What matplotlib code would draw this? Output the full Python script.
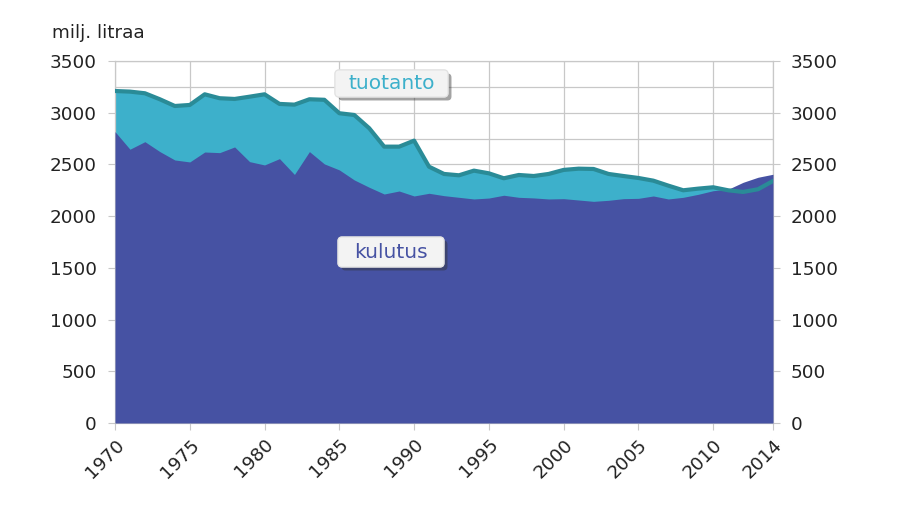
import numpy as np
import matplotlib
matplotlib.use("Agg")
import matplotlib.pyplot as plt
import matplotlib.patheffects as pe
from matplotlib.patches import FancyBboxPatch

years = np.arange(1970, 2015)

# tuotanto (production), milj. litraa
tuotanto = [3210, 3204, 3188, 3130, 3065, 3075, 3178, 3140, 3133, 3155,
            3178, 3085, 3078, 3130, 3125, 2995, 2978, 2850, 2672, 2672,
            2730, 2478, 2408, 2395, 2440, 2414, 2366, 2398, 2388, 2408,
            2447, 2459, 2456, 2408, 2388, 2369, 2343, 2295, 2250, 2266,
            2279, 2250, 2234, 2260, 2340]

# kulutus (consumption), milj. litraa
kulutus = [2817, 2647, 2720, 2624, 2543, 2524, 2620, 2614, 2669, 2527,
           2495, 2556, 2403, 2624, 2505, 2447, 2350, 2279, 2214, 2243,
           2195, 2221, 2198, 2182, 2166, 2175, 2202, 2182, 2176, 2166,
           2169, 2156, 2143, 2153, 2169, 2172, 2195, 2166, 2182, 2211,
           2246, 2260, 2327, 2376, 2405]

xticks = [1970, 1975, 1980, 1985, 1990, 1995, 2000, 2005, 2010, 2014]

c_kul = "#4652A3"
c_tuo = "#3DB0CB"
c_line = "#2A8B97"
c_grid = "#C8C8C8"
c_txt = "#222222"

W, H = 900, 515
ax_px = (115, 92, 658, 362)  # left, bottom, width, height in pixels

fig = plt.figure(figsize=(W / 100, H / 100), dpi=100)
ax = fig.add_axes([ax_px[0] / W, ax_px[1] / H, ax_px[2] / W, ax_px[3] / H])

ax.fill_between(years, 0, tuotanto, color=c_tuo, lw=0, zorder=2)
ax.fill_between(years, 0, kulutus, color=c_kul, lw=0, zorder=3)
ax.plot(years, tuotanto, color=c_line, lw=3, zorder=4, solid_joinstyle="round")

ax.set_xlim(1970, 2014)
ax.set_ylim(0, 3500)
ax.set_xticks(xticks)
ax.set_xticklabels([str(y) for y in xticks], rotation=45, ha="right",
                   va="top", rotation_mode="anchor")
ax.set_yticks(np.arange(0, 3501, 500))
ax.set_yticks(np.arange(0, 3501, 250), minor=True)
ax.tick_params(axis="both", which="major", labelsize=13.2, labelcolor=c_txt,
               color=c_grid, length=5, width=0.8)
ax.tick_params(axis="y", which="minor", length=0)
ax.tick_params(axis="y", right=True, labelright=True, pad=8)
ax.tick_params(axis="x", pad=4)

ax.grid(True, which="both", color=c_grid, lw=0.9, zorder=0)
ax.grid(False, axis="x", which="minor")
ax.set_axisbelow(True)
for s in ax.spines.values():
    s.set_color(c_grid)
    s.set_linewidth(0.9)

fig.text(52 / W, 1 - 33 / H, "milj. litraa", fontsize=13.2, color=c_txt,
         va="center", ha="left")

# series labels in rounded boxes (centre x, centre y, box w, box h in pixels)
for label, cx, cy, bw, bh, col in [("tuotanto", 391.5, 83.5, 113, 27, c_tuo),
                                   ("kulutus", 391, 252, 106, 30, c_kul)]:
    fx = (cx - ax_px[0]) / ax_px[2]
    fy = (H - cy - ax_px[1]) / ax_px[3]
    w = bw / ax_px[2]
    h = bh / ax_px[3]
    box = FancyBboxPatch((fx - w / 2, fy - h / 2), w, h,
                         boxstyle="round,pad=0,rounding_size=%f" % (4 / ax_px[2]),
                         mutation_aspect=ax_px[2] / ax_px[3],
                         transform=ax.transAxes, fc="#F3F3F3", ec="#E2E2E2",
                         lw=0.8, zorder=6)
    box.set_path_effects([pe.withSimplePatchShadow(offset=(2.5, -2.5),
                                                   shadow_rgbFace="#333333",
                                                   alpha=0.45),
                          pe.Normal()])
    ax.add_patch(box)
    ax.text(fx, fy, label, transform=ax.transAxes, fontsize=14.5, color=col,
            ha="center", va="center", zorder=7)

fig.savefig("out.png", dpi=100)
